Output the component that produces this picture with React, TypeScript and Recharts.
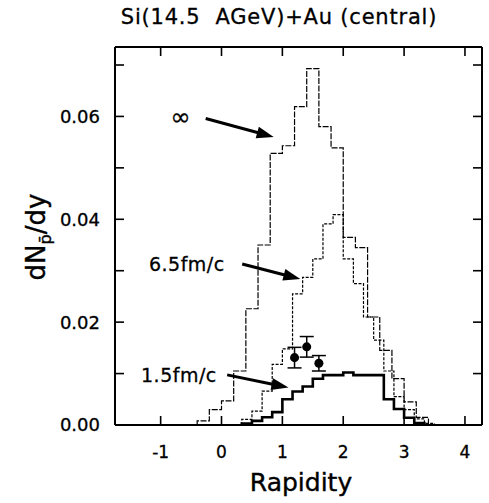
import React from 'react';
import {
  ComposedChart,
  Line,
  Scatter,
  ErrorBar,
  XAxis,
  YAxis,
  ReferenceLine,
  ReferenceDot,
} from 'recharts';

// axis ticks
const rapidityTicks = [-1, 0, 1, 2, 3, 4];
const densityTicks = [0, 0.01, 0.02, 0.03, 0.04, 0.05, 0.06, 0.07];
const xDomain = [-1.75, 4.28];
const yDomain = [0, 0.0735];

// t = infinity histogram (bin edges + bin heights)
const infEdges = [-0.4, -0.2, 0, 0.2, 0.4, 0.6, 0.8, 1.0, 1.2, 1.4, 1.6, 1.8, 2.0, 2.2, 2.4, 2.6, 2.8, 3.0, 3.2, 3.4];
const infValues = [0.0008, 0.003, 0.0047, 0.0105, 0.0226, 0.035, 0.0528, 0.0543, 0.0619, 0.0693, 0.058, 0.0539, 0.0365, 0.0345, 0.021, 0.0145, 0.009, 0.0045, 0.0015];

// t = 6.5 fm/c
const midEdges = [0.333, 0.5, 0.667, 0.833, 1.0, 1.167, 1.333, 1.5, 1.667, 1.833, 2.0, 2.167, 2.333, 2.5, 2.667, 2.833, 3.0, 3.167, 3.333, 3.5];
const midValues = [0.0011, 0.0027, 0.0066, 0.0118, 0.0148, 0.0255, 0.0287, 0.0323, 0.0391, 0.0409, 0.0323, 0.0275, 0.021, 0.0165, 0.0105, 0.0055, 0.003, 0.0012, 0.0003];

// t = 1.5 fm/c
const earlyEdges = [0.333, 0.5, 0.667, 0.833, 1.0, 1.167, 1.333, 1.5, 1.667, 1.833, 2.0, 2.167, 2.333, 2.5, 2.667, 2.833, 3.0, 3.167, 3.333];
const earlyValues = [0.0003, 0.0008, 0.0015, 0.0025, 0.005, 0.0065, 0.0075, 0.009, 0.0097, 0.0097, 0.0102, 0.0097, 0.0097, 0.0097, 0.005, 0.0031, 0.0014, 0.0004];

// measured points
const expX = [1.2, 1.4, 1.6];
const expY = [0.0131, 0.0152, 0.012];
const expErr = [0.002, 0.002, 0.0015];

// annotations: label position, arrow start, arrow tip
const annotations = [
  { text: '∞', lx: -0.67, ly: 0.0598, size: 24, from: [-0.26, 0.0596], to: [0.857, 0.056] },
  { text: '6.5fm/c', lx: -0.57, ly: 0.0313, size: 19, from: [0.34, 0.0313], to: [1.295, 0.0284] },
  { text: '1.5fm/c', lx: -0.7, ly: 0.00975, size: 19, from: [0.093, 0.00975], to: [1.1, 0.00727] },
];

const toSteps = (edges: number[], values: number[]) => {
  const pts = [{ x: edges[0], y: 0 }];
  values.forEach((v, i) => pts.push({ x: edges[i], y: v }));
  pts.push({ x: edges[edges.length - 1], y: 0 });
  return pts;
};

const infData = toSteps(infEdges, infValues);
const midData = toSteps(midEdges, midValues);
const earlyData = toSteps(earlyEdges, earlyValues);
const expData = expX.map((x, i) => ({ x, y: expY[i], err: expErr[i] }));

const FONT = "'DejaVu Sans', sans-serif";
const TICK_LEN = 9;

const Arrow = (props: any) => {
  const { x1, y1, x2, y2 } = props;
  const dx = x2 - x1;
  const dy = y2 - y1;
  const len = Math.hypot(dx, dy) || 1;
  const ux = dx / len;
  const uy = dy / len;
  const head = 17;
  const half = 6;
  const bx = x2 - ux * head;
  const by = y2 - uy * head;
  return (
    <g>
      <line x1={x1} y1={y1} x2={bx + ux * 2} y2={by + uy * 2} stroke="#000" strokeWidth={3} />
      <polygon
        points={`${x2},${y2} ${bx - uy * half},${by + ux * half} ${bx + uy * half},${by - ux * half}`}
        fill="#000"
      />
    </g>
  );
};

// inward tick marks at both ends of a full-width/height reference line
const VTicks = (props: any) => {
  const { x1, y1, y2 } = props;
  const top = Math.min(y1, y2);
  const bottom = Math.max(y1, y2);
  return (
    <g stroke="#000" strokeWidth={1.6}>
      <line x1={x1} y1={top} x2={x1} y2={top + TICK_LEN} />
      <line x1={x1} y1={bottom} x2={x1} y2={bottom - TICK_LEN} />
    </g>
  );
};

const HTicks = (props: any) => {
  const { y1, x1, x2 } = props;
  const left = Math.min(x1, x2);
  const right = Math.max(x1, x2);
  return (
    <g stroke="#000" strokeWidth={1.6}>
      <line x1={left} y1={y1} x2={left + TICK_LEN} y2={y1} />
      <line x1={right} y1={y1} x2={right - TICK_LEN} y2={y1} />
    </g>
  );
};

const makeLabel = (text: string, size: number) => (props: any) => (
  <text
    x={props.cx}
    y={props.cy}
    textAnchor="middle"
    dominantBaseline="central"
    fontFamily={FONT}
    fontSize={size}
    letterSpacing={0.5}
    fill="#000"
    stroke="#000"
    strokeWidth={0.3}
  >
    {text}
  </text>
);

const tickStyle = { fill: '#000', fontSize: 17, fontFamily: FONT, stroke: '#000', strokeWidth: 0.3 };
const axisLineStyle = { stroke: '#000', strokeWidth: 2 };

export default function App() {
  return (
    <div style={{ position: 'absolute', left: 0, top: 0, width: 489, height: 503, background: '#fff', fontFamily: FONT }}>
      <div
        style={{
          position: 'absolute',
          left: 279,
          top: 17,
          transform: 'translate(-50%, -50%)',
          fontSize: 21,
          letterSpacing: 0.8,
          whiteSpace: 'pre',
          WebkitTextStroke: '0.3px #000',
        }}
      >
        Si(14.5  AGeV)+Au (central)
      </div>
      <div
        style={{
          position: 'absolute',
          left: 38,
          top: 237,
          transform: 'translate(-50%, -50%) rotate(-90deg)',
          fontSize: 26,
          whiteSpace: 'nowrap',
          WebkitTextStroke: '0.4px #000',
        }}
      >
        dN<sub style={{ fontSize: 16 }}>p̄</sub>/dy
      </div>
      <div
        style={{
          position: 'absolute',
          left: 301,
          top: 482,
          transform: 'translate(-50%, -50%)',
          fontSize: 25,
          whiteSpace: 'nowrap',
          WebkitTextStroke: '0.4px #000',
        }}
      >
        Rapidity
      </div>
      <ComposedChart
        width={489}
        height={503}
        margin={{ top: 47, right: 7, bottom: 38, left: 0 }}
        style={{ position: 'absolute', left: 0, top: 0 }}
      >
        <XAxis
          dataKey="x"
          type="number"
          domain={xDomain}
          ticks={rapidityTicks}
          allowDataOverflow
          height={40}
          axisLine={axisLineStyle}
          tickLine={false}
          tickSize={0}
          tickMargin={21}
          tick={tickStyle}
        />
        <YAxis
          type="number"
          domain={yDomain}
          ticks={densityTicks}
          allowDataOverflow
          width={115}
          axisLine={axisLineStyle}
          tickLine={false}
          tickSize={0}
          tickMargin={15}
          tick={{ ...tickStyle, fontSize: 18 }}
          tickFormatter={(v: number) => (Math.round(v * 100) % 2 === 0 ? v.toFixed(2) : '')}
        />

        {/* frame: top and right edges */}
        <ReferenceLine y={yDomain[1]} stroke="#000" strokeWidth={2} ifOverflow="visible" />
        <ReferenceLine x={xDomain[1]} stroke="#000" strokeWidth={2} ifOverflow="visible" />

        {/* inward ticks on all four sides */}
        {rapidityTicks.map((t) => (
          <ReferenceLine key={`xt-${t}`} x={t} shape={VTicks} />
        ))}
        {densityTicks.map((t) => (
          <ReferenceLine key={`yt-${t}`} y={t} shape={HTicks} />
        ))}

        <Line
          data={infData}
          dataKey="y"
          type="stepAfter"
          stroke="#000"
          strokeWidth={1.2}
          strokeDasharray="6 1.5"
          dot={false}
          isAnimationActive={false}
        />
        <Line
          data={midData}
          dataKey="y"
          type="stepAfter"
          stroke="#000"
          strokeWidth={1.2}
          strokeDasharray="3 1.5"
          dot={false}
          isAnimationActive={false}
        />
        <Line
          data={earlyData}
          dataKey="y"
          type="stepAfter"
          stroke="#000"
          strokeWidth={2.6}
          dot={false}
          isAnimationActive={false}
        />
        <Scatter data={expData} dataKey="y" fill="#000" isAnimationActive={false}>
          <ErrorBar dataKey="err" direction="y" width={7} stroke="#000" strokeWidth={1.5} />
        </Scatter>

        {annotations.map((a) => (
          <ReferenceLine
            key={`arrow-${a.text}`}
            segment={[
              { x: a.from[0], y: a.from[1] },
              { x: a.to[0], y: a.to[1] },
            ]}
            shape={Arrow}
          />
        ))}
        {annotations.map((a) => (
          <ReferenceDot
            key={`label-${a.text}`}
            x={a.lx}
            y={a.ly}
            r={0}
            shape={makeLabel(a.text, a.size)}
          />
        ))}
      </ComposedChart>
    </div>
  );
}
